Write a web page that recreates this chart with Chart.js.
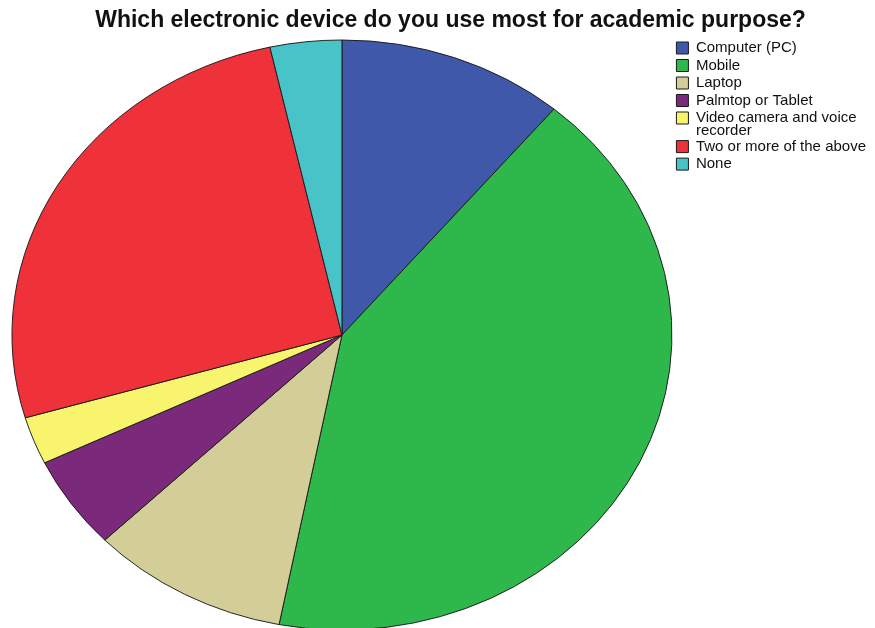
<!DOCTYPE html>
<html><head><meta charset="utf-8">
<style>html,body{margin:0;padding:0;background:#fff;}#wrap{width:875px;height:628px;}</style>
<script src="https://cdn.jsdelivr.net/npm/chart.js@4.4.1/dist/chart.umd.min.js"></script>
</head><body><div id="wrap"><canvas id="c" width="875" height="628"></canvas></div>
<script>
// ---- data ----
const chartTitle = 'Which electronic device do you use most for academic purpose?';
const categories = ['Computer (PC)', 'Mobile', 'Laptop', 'Palmtop or Tablet', ['Video camera and voice', 'recorder'], 'Two or more of the above', 'None'];
const percentages = [11.1, 41.9, 9.7, 5.1, 2.6, 26.0, 3.5];
const sliceColors = ['#3F58A9', '#2EB84B', '#D3CE98', '#7B2A7B', '#F9F46E', '#EF3139', '#48C3C7'];

// ---- styling helpers ----
const ELLIPSE_RATIO = 295 / 330;
const ellipsePlugin = {
  id: 'ellipse',
  beforeDatasetsDraw(chart) {
    const arc = chart.getDatasetMeta(0).data[0];
    const ctx = chart.ctx;
    ctx.save();
    ctx.translate(arc.x, arc.y);
    ctx.scale(1, ELLIPSE_RATIO);
    ctx.translate(-arc.x, -arc.y);
  },
  afterDatasetsDraw(chart) { chart.ctx.restore(); }
};
const boxShift = {
  id: 'boxShift',
  afterLayout(chart) {
    const lg = chart.legend;
    if (lg) { lg.left += 21; lg.right += 21; lg.top += 38; lg.bottom += 38; }
    const tt = chart.titleBlock;
    if (tt) { tt.left += 7.5; tt.right += 7.5; }
  }
};

Chart.defaults.font.family = '"Liberation Sans", Arial, sans-serif';
Chart.defaults.color = '#000';

new Chart(document.getElementById('c'), {
  type: 'pie',
  data: {
    labels: categories,
    datasets: [{
      data: percentages,
      backgroundColor: sliceColors,
      borderColor: '#1a1a1a',
      borderWidth: 1,
      radius: 330,
      clip: false
    }]
  },
  options: {
    responsive: false,
    animation: false,
    layout: { padding: { left: 31, right: 20, top: 0, bottom: 0 } },
    plugins: {
      title: {
        display: true,
        text: chartTitle,
        font: { size: 23, weight: 'bold' },
        color: '#111',
        padding: { top: 7, bottom: 7.4 }
      },
      legend: {
        position: 'right',
        align: 'start',
        labels: {
          boxWidth: 12,
          boxHeight: 12,
          padding: 2.5,
          color: '#111',
          font: { size: 15, lineHeight: 0.87 }
        }
      },
      tooltip: { enabled: false }
    }
  },
  plugins: [ellipsePlugin, boxShift]
});
</script></body></html>
